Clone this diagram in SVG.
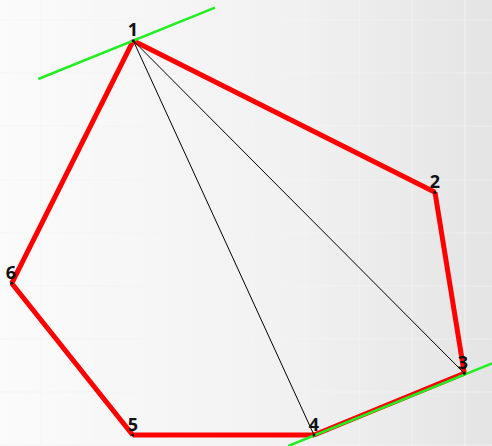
<svg xmlns="http://www.w3.org/2000/svg" width="492" height="446" viewBox="0 0 492 446">
  <defs>
    <linearGradient id="bg" x1="0" y1="0" x2="1" y2="0">
      <stop offset="0" stop-color="#fbfbfb"/>
      <stop offset="0.6" stop-color="#f1f1f1"/>
      <stop offset="1" stop-color="#e4e4e4"/>
    </linearGradient>
    <style>
      .grid line { stroke: #ffffff; stroke-width: 1.2; opacity: 0.45; }
      .grid2 line { stroke: #e0e0e0; stroke-width: 1; opacity: 0.25; }
      .edge { stroke: #ff0000; stroke-width: 5; fill: none; stroke-linecap: butt; stroke-linejoin: miter; }
      .diag { stroke: #000000; stroke-width: 1; fill: none; }
      .tan { stroke: #22ee22; stroke-width: 2.5; fill: none; }
      .lbl { font-family: "Open Sans", "Liberation Sans", sans-serif; font-weight: bold; font-size: 18px; fill: #111111; text-anchor: middle; }
      .dot { fill: #111111; }
    </style>
  </defs>
  <rect x="0" y="0" width="492" height="446" fill="url(#bg)"/>
  <g class="grid2">
    <line x1="41" y1="0" x2="41" y2="446"/><line x1="94" y1="0" x2="94" y2="446"/><line x1="147" y1="0" x2="147" y2="446"/><line x1="200" y1="0" x2="200" y2="446"/><line x1="253" y1="0" x2="253" y2="446"/><line x1="306" y1="0" x2="306" y2="446"/><line x1="359" y1="0" x2="359" y2="446"/><line x1="412" y1="0" x2="412" y2="446"/><line x1="465" y1="0" x2="465" y2="446"/>
    <line x1="0" y1="20" x2="492" y2="20"/><line x1="0" y1="73" x2="492" y2="73"/><line x1="0" y1="126" x2="492" y2="126"/><line x1="0" y1="180" x2="492" y2="180"/><line x1="0" y1="233" x2="492" y2="233"/><line x1="0" y1="286" x2="492" y2="286"/><line x1="0" y1="339" x2="492" y2="339"/><line x1="0" y1="392" x2="492" y2="392"/><line x1="0" y1="445" x2="492" y2="445"/>
  </g>
  <g class="grid">
    <line x1="41" y1="0" x2="41" y2="446"/><line x1="94" y1="0" x2="94" y2="446"/><line x1="147" y1="0" x2="147" y2="446"/><line x1="200" y1="0" x2="200" y2="446"/><line x1="253" y1="0" x2="253" y2="446"/><line x1="306" y1="0" x2="306" y2="446"/><line x1="359" y1="0" x2="359" y2="446"/><line x1="412" y1="0" x2="412" y2="446"/><line x1="465" y1="0" x2="465" y2="446"/>
    <line x1="0" y1="20" x2="492" y2="20"/><line x1="0" y1="73" x2="492" y2="73"/><line x1="0" y1="126" x2="492" y2="126"/><line x1="0" y1="180" x2="492" y2="180"/><line x1="0" y1="233" x2="492" y2="233"/><line x1="0" y1="286" x2="492" y2="286"/><line x1="0" y1="339" x2="492" y2="339"/><line x1="0" y1="392" x2="492" y2="392"/><line x1="0" y1="445" x2="492" y2="445"/>
  </g>
  <g id="connectors">
    <line class="edge" x1="133.3" y1="40.7" x2="435" y2="192.3"/>
    <line class="edge" x1="435" y1="192.3" x2="464.3" y2="373.3"/>
    <line class="edge" x1="464.3" y1="373.3" x2="314" y2="435"/>
    <line class="edge" x1="314" y1="435" x2="132.7" y2="435"/>
    <line class="edge" x1="132.7" y1="435" x2="11.7" y2="283.3"/>
    <line class="edge" x1="11.7" y1="283.3" x2="133.3" y2="40.7"/>
    <line class="diag" x1="133.3" y1="40.7" x2="314" y2="435"/>
    <line class="diag" x1="133.3" y1="40.7" x2="464.3" y2="373.3"/>
    <line class="tan" x1="38.3" y1="79" x2="215" y2="7.7"/>
    <line class="tan" x1="288.3" y1="446" x2="492" y2="363.3"/>
  </g>
  <g id="node1"><circle class="dot" cx="133.3" cy="40.7" r="1.5"/><text class="lbl" x="133" y="36">1</text></g>
  <g id="node2"><circle class="dot" cx="435" cy="192.3" r="1.5"/><text class="lbl" x="435" y="188">2</text></g>
  <g id="node3"><circle class="dot" cx="464.3" cy="373.3" r="1.5"/><text class="lbl" x="463" y="369">3</text></g>
  <g id="node4"><circle class="dot" cx="314" cy="435" r="1.5"/><text class="lbl" x="314" y="431">4</text></g>
  <g id="node5"><circle class="dot" cx="132.7" cy="435" r="1.5"/><text class="lbl" x="133" y="431">5</text></g>
  <g id="node6"><circle class="dot" cx="11.7" cy="283.3" r="1.5"/><text class="lbl" x="11" y="279">6</text></g>
</svg>
